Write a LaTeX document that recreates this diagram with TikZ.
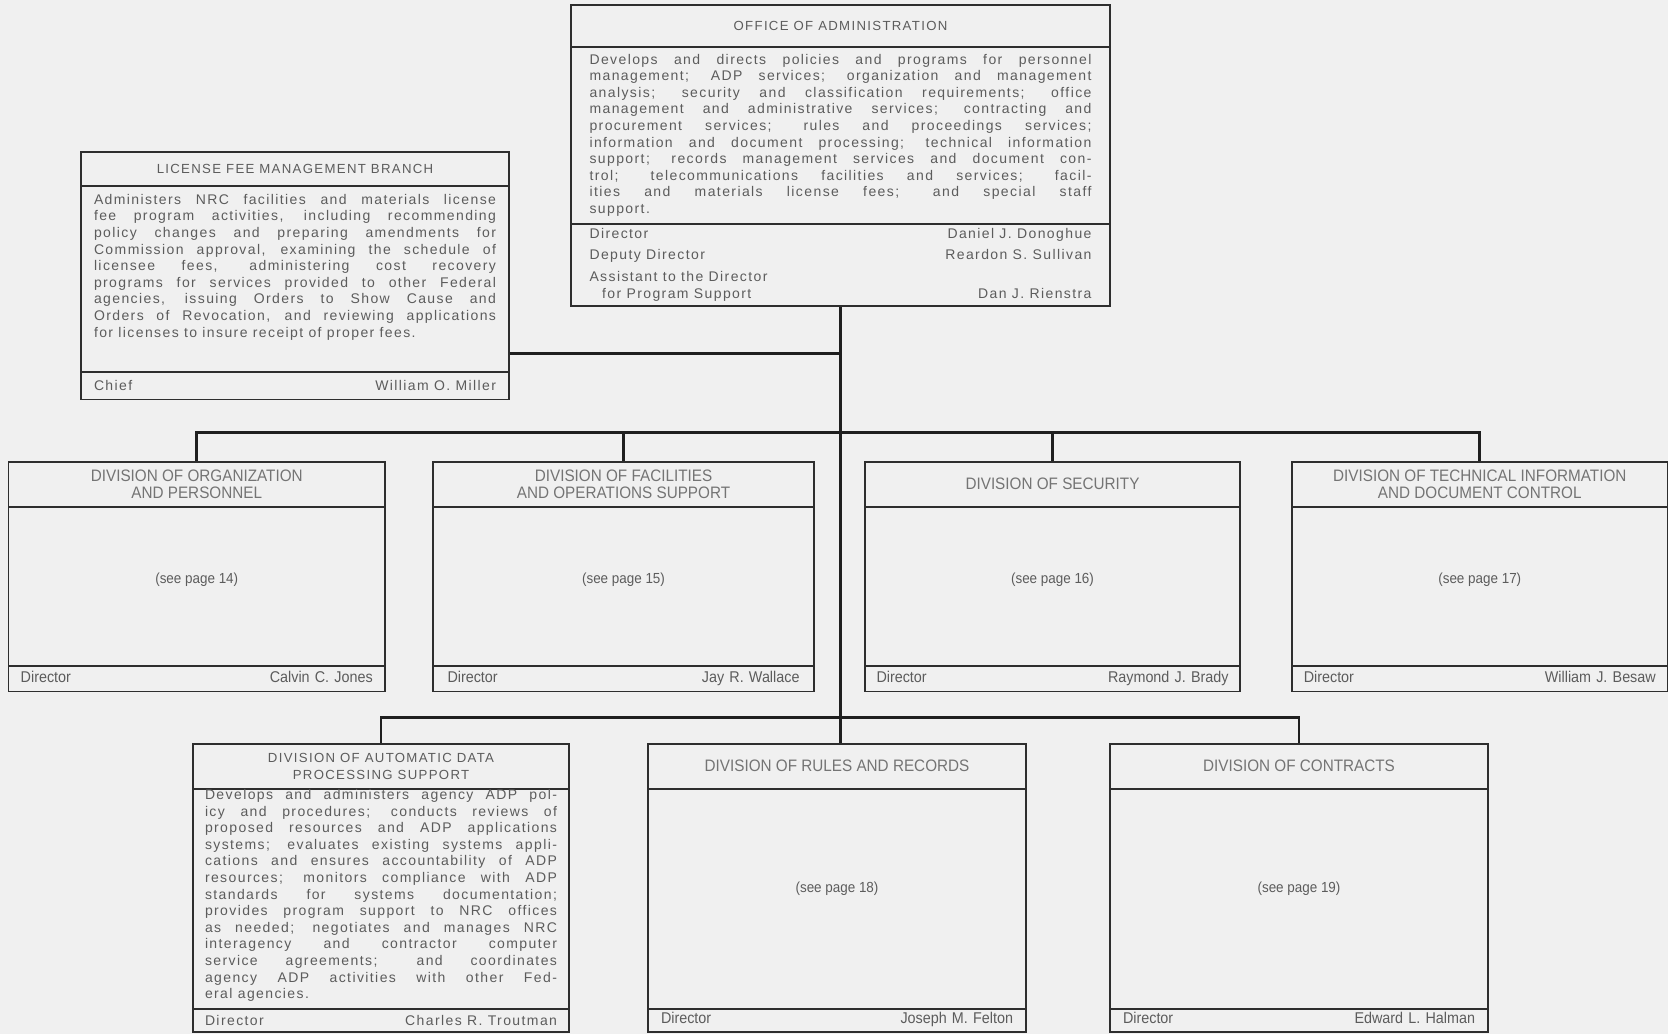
\documentclass[tikz,border=0pt]{standalone}
\usepackage{fontspec}
\usepackage{tikz}
\usetikzlibrary{fit}
\usetikzlibrary{calc}
\usetikzlibrary{positioning}

\newfontfamily\typefont[LetterSpace=10]{Liberation Sans}
\newfontfamily\printfont[FakeStretch=0.92]{Liberation Sans}

\definecolor{paper}{gray}{0.94}
\definecolor{ink}{gray}{0.36}
\definecolor{rulecol}{gray}{0.18}

\tolerance=10000
\hyphenpenalty=10000
\hbadness=10000

\tikzset{
    unitframe/.style={draw=rulecol, line width=0.65pt, rectangle, inner sep=0pt},
    divider/.style={draw=rulecol, line width=1pt},
    link/.style={draw=black!88, line width=1.4pt},
    headtype/.style={text=ink, font=\typefont\fontsize{6.6}{8.3}\selectfont, align=center, inner sep=0pt},
    bodytype/.style={text=ink, font=\typefont\fontsize{7}{8.3}\selectfont, align=justify, inner sep=0pt},
    headprint/.style={text=ink!85, font=\printfont\fontsize{8.3}{8.5}\selectfont, align=center, inner sep=0pt},
    pageref/.style={text=ink, font=\printfont\fontsize{7.3}{8.5}\selectfont, inner sep=0pt},
    footprint/.style={text=ink, font=\printfont\fontsize{7.8}{8.5}\selectfont, text width=176pt, inner sep=0pt, execute at begin node=\strut},
}

% frame name, left, top, right, bottom, title rule, footer rule
\newcommand{\orgframe}[7]{%
    \node[unitframe, fit={(#2,#3) (#4,#5)}] (#1) {};
    \draw[divider] (#2,#6) -- (#4,#6);
    \draw[divider] (#2,#7) -- (#4,#7);
    \coordinate (#1-head) at ($(#2,#3)!0.5!(#4,#6)$);
    \coordinate (#1-body) at ($(#2,#6)!0.5!(#4,#7)$);
    \coordinate (#1-foot) at ($(#2,#7)!0.5!(#4,#5)$);
}

\begin{document}
\begin{tikzpicture}[x=0.5pt, y=-0.5pt]
    \fill[paper] (0,0) rectangle (1668,1034);
    \useasboundingbox (0,0) rectangle (1668,1034);

    \orgframe{office}{571}{5}{1110}{306}{47}{223.5}
    \orgframe{feebranch}{81}{152}{509}{399.5}{186}{372}
    \orgframe{orgpers}{8.5}{462}{385}{691.5}{506.5}{666}
    \orgframe{facops}{433}{462}{814}{691.5}{506.5}{666}
    \orgframe{security}{865}{462}{1240}{691.5}{506.5}{666}
    \orgframe{techinfo}{1292}{462}{1667.5}{691.5}{506.5}{666}
    \orgframe{adpsupport}{193}{744}{569}{1032}{788.5}{1008.5}
    \orgframe{rulesrec}{648}{744}{1026}{1032}{788.5}{1008.5}
    \orgframe{contracts}{1110}{744}{1488}{1032}{788.5}{1008.5}

    \node[headtype] (office-title) at (office-head) {OFFICE OF ADMINISTRATION};
    \node[bodytype, text width=251pt] (office-text) at (office-body) {Develops and directs policies and programs for personnel \linebreak management; ADP services; organization and management \linebreak analysis; security and classification requirements; office \linebreak management and administrative services; contracting and \linebreak procurement services; rules and proceedings services; \linebreak information and document processing; technical information \linebreak support; records management services and document con-\linebreak trol; telecommunications facilities and services; facil-\linebreak ities and materials license fees; and special staff \linebreak support.};
    \node[bodytype, text width=251pt] (office-staff) at (office-foot) {Director\hfill Daniel J. Donoghue\\[2.2pt]
        Deputy Director\hfill Reardon S. Sullivan\\[2.7pt]
        Assistant to the Director\\
        \hspace*{0.9em}for Program Support\hfill Dan J. Rienstra};

    \node[headtype] (feebranch-title) at (feebranch-head) {LICENSE FEE MANAGEMENT BRANCH};
    \node[bodytype, text width=201pt] (feebranch-text) at ([yshift=6pt]feebranch-body) {Administers NRC facilities and materials license \linebreak fee program activities, including recommending \linebreak policy changes and preparing amendments for \linebreak Commission approval, examining the schedule of \linebreak licensee fees, administering cost recovery \linebreak programs for services provided to other Federal \linebreak agencies, issuing Orders to Show Cause and \linebreak Orders of Revocation, and reviewing applications \linebreak for licenses to insure receipt of proper fees.};
    \node[bodytype, text width=201pt] (feebranch-staff) at (feebranch-foot) {Chief\hfill William O. Miller};

    \node[headprint] (orgpers-title) at (orgpers-head) {DIVISION OF ORGANIZATION\\AND PERSONNEL};
    \node[pageref] (orgpers-page) at ([yshift=3.5pt]orgpers-body) {(see page 14)};
    \node[footprint] (orgpers-staff) at (orgpers-foot) {Director\hfill Calvin C. Jones};

    \node[headprint] (facops-title) at (facops-head) {DIVISION OF FACILITIES\\AND OPERATIONS SUPPORT};
    \node[pageref] (facops-page) at ([yshift=3.5pt]facops-body) {(see page 15)};
    \node[footprint] (facops-staff) at (facops-foot) {Director\hfill Jay R. Wallace};

    \node[headprint] (security-title) at (security-head) {DIVISION OF SECURITY};
    \node[pageref] (security-page) at ([yshift=3.5pt]security-body) {(see page 16)};
    \node[footprint] (security-staff) at (security-foot) {Director\hfill Raymond J. Brady};

    \node[headprint] (techinfo-title) at (techinfo-head) {DIVISION OF TECHNICAL INFORMATION\\AND DOCUMENT CONTROL};
    \node[pageref] (techinfo-page) at ([yshift=3.5pt]techinfo-body) {(see page 17)};
    \node[footprint] (techinfo-staff) at (techinfo-foot) {Director\hfill William J. Besaw};

    \node[headtype] (adpsupport-title) at (adpsupport-head) {DIVISION OF AUTOMATIC DATA\\PROCESSING SUPPORT};
    \node[bodytype, text width=176pt] (adpsupport-text) at ([yshift=1.5pt]adpsupport-body) {Develops and administers agency ADP pol-\linebreak icy and procedures; conducts reviews of \linebreak proposed resources and ADP applications \linebreak systems; evaluates existing systems appli-\linebreak cations and ensures accountability of ADP \linebreak resources; monitors compliance with ADP \linebreak standards for systems documentation; \linebreak provides program support to NRC offices \linebreak as needed; negotiates and manages NRC \linebreak interagency and contractor computer \linebreak service agreements; and coordinates \linebreak agency ADP activities with other Fed-\linebreak eral agencies.};
    \node[bodytype, text width=176pt] (adpsupport-staff) at (adpsupport-foot) {Director\hfill Charles R. Troutman};

    \node[headprint] (rulesrec-title) at (rulesrec-head) {DIVISION OF RULES AND RECORDS};
    \node[pageref] (rulesrec-page) at ([yshift=5pt]rulesrec-body) {(see page 18)};
    \node[footprint] (rulesrec-staff) at (rulesrec-foot) {Director\hfill Joseph M. Felton};

    \node[headprint] (contracts-title) at (contracts-head) {DIVISION OF CONTRACTS};
    \node[pageref] (contracts-page) at ([yshift=5pt]contracts-body) {(see page 19)};
    \node[footprint] (contracts-staff) at (contracts-foot) {Director\hfill Edward L. Halman};

    \draw[link] (office.south) -- (office.south |- rulesrec.north);
    \draw[link] ([yshift=-39pt]feebranch.east) coordinate (feejoin) -- (feejoin -| office.south);
    \draw[link] (orgpers.north) -- ++(0,-29) coordinate (rowtwo) -| (techinfo.north);
    \draw[link] (facops.north) -- (facops.north |- rowtwo);
    \draw[link] (security.north) -- (security.north |- rowtwo);
    \draw[link] (adpsupport.north) -- ++(0,-26) -| (contracts.north);
\end{tikzpicture}
\end{document}
